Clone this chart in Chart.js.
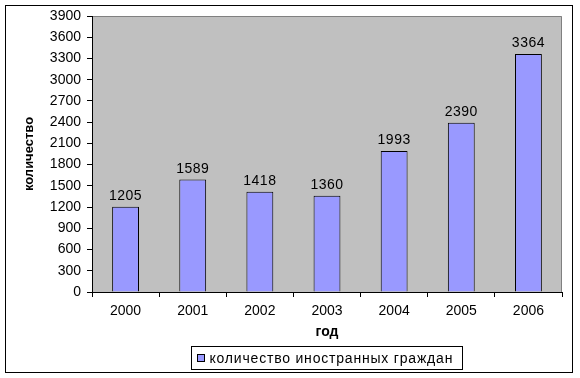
<!DOCTYPE html>
<html lang="ru">
<head>
  <meta charset="UTF-8">
  <title>Количество иностранных граждан</title>
  <script src="https://cdn.jsdelivr.net/npm/chart.js@4.4.0/dist/chart.umd.min.js"></script>
  <style>
    html, body { margin: 0; padding: 0; background: #fff; }
    #wrap { position: relative; width: 580px; height: 378px; }
  </style>
</head>
<body>
  <div id="wrap"><canvas id="chart"></canvas></div>
  <script>
    // Chart data
    const years = ['2000', '2001', '2002', '2003', '2004', '2005', '2006'];
    const counts = [1205, 1589, 1418, 1360, 1993, 2390, 3364];
    const seriesLabel = 'количество иностранных граждан';
    const xTitle = 'год';
    const yTitle = 'количество';
    const yMax = 3900;
    const yStep = 300;

    const FONT = '"Liberation Sans", Arial, sans-serif';

    // grey plot area, outer frame, value labels and legend box
    const decor = {
      id: 'decor',
      beforeDraw(chart) {
        const { ctx, chartArea: a } = chart;
        ctx.save();
        ctx.fillStyle = '#c0c0c0';
        ctx.fillRect(a.left, a.top, a.right - a.left, a.bottom - a.top);
        ctx.strokeStyle = '#808080';
        ctx.lineWidth = 1;
        ctx.beginPath();
        ctx.moveTo(a.left, a.top + 0.5);
        ctx.lineTo(a.right - 0.5, a.top + 0.5);
        ctx.lineTo(a.right - 0.5, a.bottom);
        ctx.stroke();
        ctx.restore();
      },
      afterDraw(chart) {
        const { ctx } = chart;
        ctx.save();
        // outer frame
        ctx.strokeStyle = '#000';
        ctx.lineWidth = 1;
        ctx.strokeRect(5.5, 5.5, 567, 367);

        // value labels
        ctx.fillStyle = '#000';
        ctx.font = '14px ' + FONT;
        ctx.letterSpacing = '0.5px';
        ctx.textAlign = 'center';
        ctx.textBaseline = 'alphabetic';
        const meta = chart.getDatasetMeta(0);
        meta.data.forEach((bar, i) => {
          ctx.fillText(String(chart.data.datasets[0].data[i]), bar.x, bar.y - 7);
        });

        // legend
        const ds = chart.data.datasets[0];
        ctx.font = '14px ' + FONT;
        ctx.letterSpacing = '0.8px';
        const bx = 191.5, by = 346.5, boxW = 271, boxH = 23;
        ctx.strokeStyle = '#000';
        ctx.strokeRect(bx, by, boxW, boxH);
        ctx.fillStyle = ds.backgroundColor;
        ctx.fillRect(bx + 6, by + 8, 7, 7);
        ctx.strokeRect(bx + 6, by + 8, 7, 7);
        ctx.fillStyle = '#000';
        ctx.textAlign = 'left';
        ctx.textBaseline = 'middle';
        ctx.fillText(ds.label, bx + 18, by + boxH / 2 + 1);
        ctx.restore();
      }
    };

    new Chart(document.getElementById('chart'), {
      type: 'bar',
      data: {
        labels: years,
        datasets: [{
          label: seriesLabel,
          data: counts,
          backgroundColor: '#9999ff',
          borderColor: '#000',
          borderWidth: 1,
          barPercentage: 0.4,
          categoryPercentage: 1
        }]
      },
      options: {
        responsive: true,
        maintainAspectRatio: false,
        animation: false,
        layout: { padding: { left: 0, right: 18, top: 16, bottom: 36 } },
        plugins: {
          legend: { display: false },
          tooltip: { enabled: false }
        },
        scales: {
          x: {
            afterFit(scale) { scale.height = 50; },
            grid: {
              offset: true,
              drawOnChartArea: false,
              drawTicks: true,
              tickLength: 5,
              color: '#000'
            },
            border: { color: '#000' },
            ticks: { color: '#000', padding: 6, font: { size: 14, family: FONT } },
            title: {
              display: true,
              text: xTitle,
              color: '#000',
              font: { size: 14, weight: 'bold', family: FONT },
              padding: { top: 0, bottom: 1 }
            }
          },
          y: {
            min: 0,
            max: yMax,
            afterFit(scale) { scale.width = 92; },
            grid: {
              drawOnChartArea: false,
              drawTicks: true,
              tickLength: 5,
              color: '#000'
            },
            border: { color: '#000' },
            ticks: {
              stepSize: yStep,
              color: '#000',
              padding: 6,
              font: { size: 14, family: FONT },
              callback: v => String(v)
            },
            title: {
              display: true,
              text: yTitle,
              color: '#000',
              font: { size: 13, weight: 'bold', family: FONT },
              padding: { top: 22, bottom: 0 }
            }
          }
        }
      },
      plugins: [decor]
    });
  </script>
</body>
</html>
